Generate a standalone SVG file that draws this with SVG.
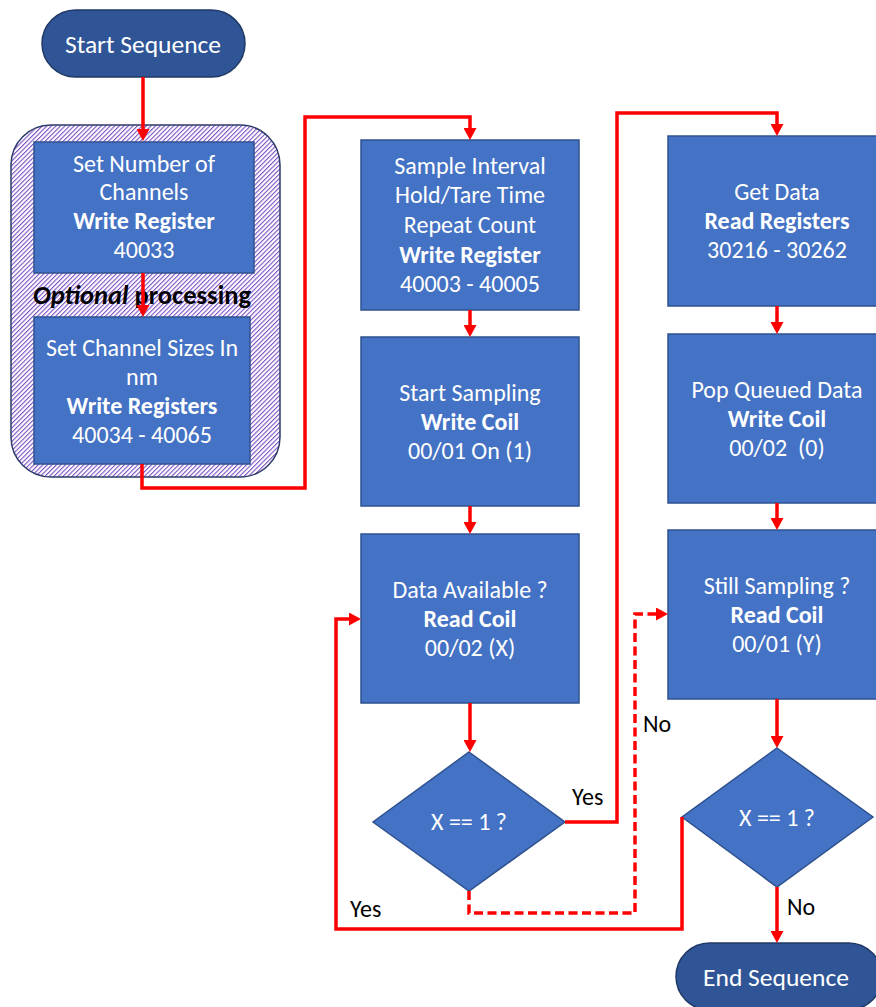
<svg xmlns="http://www.w3.org/2000/svg" width="876" height="1007" viewBox="0 0 876 1007">
<style>
.box{fill:#4472C4;stroke:#2F528F;stroke-width:1.5}
.term{fill:#2F5597;stroke:#203864;stroke-width:1.5}
.t{font-family:Carlito,Lato,"Liberation Sans",sans-serif;font-size:24px;fill:#fff;text-anchor:middle}
.tt{font-family:Carlito,Lato,"Liberation Sans",sans-serif;font-size:25.5px;fill:#fff;text-anchor:middle}
.b{font-weight:bold}
.lbl{font-family:Carlito,Lato,"Liberation Sans",sans-serif;font-size:24px;fill:#000}
.c{fill:none;stroke:#FF0000;stroke-width:3.5}
.d{stroke-dasharray:9 4.5}
</style>
<defs>
<pattern id="hatch" patternUnits="userSpaceOnUse" width="3.2" height="8" patternTransform="rotate(45)">
<rect width="3.2" height="8" fill="#fff"/>
<rect width="1.1" height="8" fill="#7B4FC4"/>
</pattern>
<marker id="ah" markerUnits="userSpaceOnUse" markerWidth="13" markerHeight="13" refX="2" refY="6.5" orient="auto">
<path d="M0,0 L12,6.5 L0,13 z" fill="#FF0000"/>
</marker>
</defs>

<g id="optional-group">
<rect x="11" y="125" width="269" height="352" rx="40" ry="40" fill="url(#hatch)" stroke="#2F3B6B" stroke-width="1.5"/>
<text class="lbl b" x="33" y="304" style="font-size:26.5px"><tspan font-style="italic">Optional</tspan> processing</text>
</g>

<g id="start">
<rect class="term" x="42" y="10" width="203" height="67" rx="33.5"/>
<text class="tt" x="143" y="53">Start Sequence</text>
</g>

<g id="set-channels">
<rect class="box" x="34" y="142" width="220" height="131"/>
<text class="t" x="144" y="172">Set Number of</text>
<text class="t" x="144" y="200">Channels</text>
<text class="t b" x="144" y="229">Write Register</text>
<text class="t" x="144" y="258">40033</text>
</g>

<g id="set-sizes">
<rect class="box" x="34" y="317" width="216" height="147"/>
<text class="t" x="142" y="356">Set Channel Sizes In</text>
<text class="t" x="142" y="385">nm</text>
<text class="t b" x="142" y="414">Write Registers</text>
<text class="t" x="142" y="443">40034 - 40065</text>
</g>

<g id="sample-interval">
<rect class="box" x="361" y="140" width="218" height="170"/>
<text class="t" x="470" y="174">Sample Interval</text>
<text class="t" x="470" y="203">Hold/Tare Time</text>
<text class="t" x="470" y="233">Repeat Count</text>
<text class="t b" x="470" y="263">Write Register</text>
<text class="t" x="470" y="292">40003 - 40005</text>
</g>

<g id="start-sampling">
<rect class="box" x="361" y="337" width="218" height="169"/>
<text class="t" x="470" y="400.5">Start Sampling</text>
<text class="t b" x="470" y="429.5">Write Coil</text>
<text class="t" x="470" y="458.5">00/01 On (1)</text>
</g>

<g id="data-available">
<rect class="box" x="361" y="534" width="218" height="169"/>
<text class="t" x="470" y="598">Data Available ?</text>
<text class="t b" x="470" y="627">Read Coil</text>
<text class="t" x="470" y="656">00/02 (X)</text>
</g>

<g id="decision-x">
<polygon class="box" points="469,752 565,822 469,891 373,822"/>
<text class="t" x="469" y="830">X == 1 ?</text>
</g>

<g id="get-data">
<rect class="box" x="668" y="136" width="218" height="170"/>
<text class="t" x="777" y="200">Get Data</text>
<text class="t b" x="777" y="229">Read Registers</text>
<text class="t" x="777" y="258">30216 - 30262</text>
</g>

<g id="pop-queued">
<rect class="box" x="668" y="334" width="218" height="169"/>
<text class="t" x="777" y="397.5">Pop Queued Data</text>
<text class="t b" x="777" y="426.5">Write Coil</text>
<text class="t" x="777" y="455.5" xml:space="preserve">00/02  (0)</text>
</g>

<g id="still-sampling">
<rect class="box" x="668" y="530" width="218" height="169"/>
<text class="t" x="777" y="593.5">Still Sampling ?</text>
<text class="t b" x="777" y="622.5">Read Coil</text>
<text class="t" x="777" y="651.5">00/01 (Y)</text>
</g>

<g id="decision-y">
<polygon class="box" points="777,748 873,817 777,887 682,817"/>
<text class="t" x="777" y="826">X == 1 ?</text>
</g>

<g id="end">
<rect class="term" x="676" y="943" width="206" height="67" rx="33.5"/>
<text class="tt" x="776" y="986">End Sequence</text>
</g>

<g id="connectors">
<path class="c" d="M143,77 V131" marker-end="url(#ah)"/>
<path class="c" d="M143,273 V307" marker-end="url(#ah)"/>
<path class="c" d="M142,464 V488 H305 V117 H470 V130" marker-end="url(#ah)"/>
<path class="c" d="M470,310 V327" marker-end="url(#ah)"/>
<path class="c" d="M470,506 V524" marker-end="url(#ah)"/>
<path class="c" d="M470,703 V742" marker-end="url(#ah)"/>
<path class="c" d="M565,822 H617 V113 H777 V126" marker-end="url(#ah)"/>
<path class="c" d="M777,306 V324" marker-end="url(#ah)"/>
<path class="c" d="M777,503 V520" marker-end="url(#ah)"/>
<path class="c" d="M777,699 V738" marker-end="url(#ah)"/>
<path class="c d" d="M469,891 V913 H635 V614 H658" marker-end="url(#ah)"/>
<path class="c" d="M682,817 V929 H336 V619 H351" marker-end="url(#ah)"/>
<path class="c" d="M777,887 V933" marker-end="url(#ah)"/>
<text class="lbl" x="572" y="805">Yes</text>
<text class="lbl" x="350" y="917">Yes</text>
<text class="lbl" x="643" y="732">No</text>
<text class="lbl" x="787" y="915">No</text>
</g>
</svg>
